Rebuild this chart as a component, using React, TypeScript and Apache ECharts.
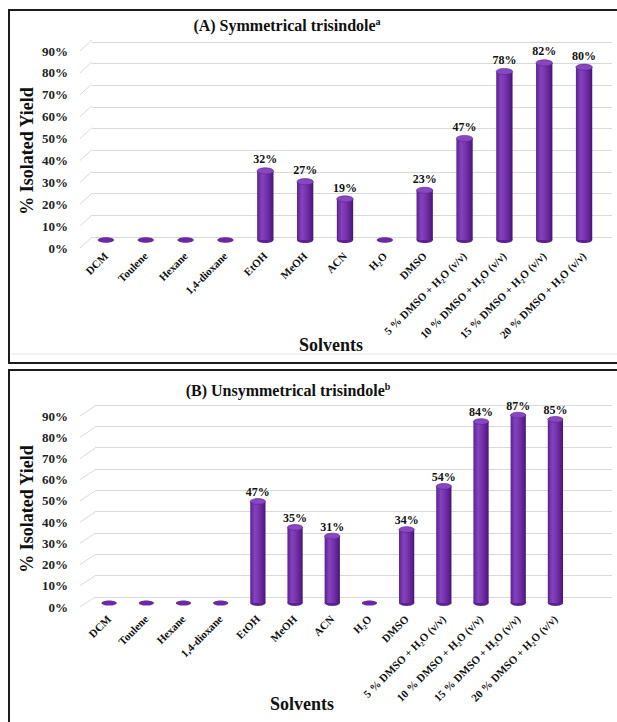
import React, { useEffect, useRef } from "react";
import * as echarts from "echarts";

const categories = [
  "DCM",
  "Toulene",
  "Hexane",
  "1,4-dioxane",
  "EtOH",
  "MeOH",
  "ACN",
  "H₂O",
  "DMSO",
  "5 % DMSO + H₂O (v/v)",
  "10 % DMSO + H₂O (v/v)",
  "15 % DMSO + H₂O (v/v)",
  "20 % DMSO + H₂O (v/v)",
];
const symmetricalYield = [0, 0, 0, 0, 32, 27, 19, 0, 23, 47, 78, 82, 80];
const unsymmetricalYield = [0, 0, 0, 0, 47, 35, 31, 0, 34, 54, 84, 87, 85];
const yTicks = [0, 10, 20, 30, 40, 50, 60, 70, 80, 90];
const titles = ["(A) Symmetrical trisindole", "(B) Unsymmetrical trisindole"];
const titleMarks = ["a", "b"];
const yName = "% Isolated Yield";
const xName = "Solvents";

const FONT = "'Liberation Serif', 'Times New Roman', serif";

type Box = { left: number; top: number; width: number; height: number };
type Geo = { bar: Box; label: Box; wall: Box; slant: [number, number]; labelDist: number };

const geos: Geo[] = [
  {
    bar: { left: 86, top: 45.6, width: 518, height: 194.4 },
    label: { left: 80, top: 51, width: 10, height: 197 },
    wall: { left: 92, top: 42, width: 520, height: 195 },
    slant: [12, 11],
    labelDist: 2,
  },
  {
    bar: { left: 90.5, top: 408.6, width: 483.5, height: 194.4 },
    label: { left: 80, top: 416, width: 10, height: 191 },
    wall: { left: 95, top: 405, width: 517, height: 192 },
    slant: [15, 10],
    labelDist: 0,
  },
];

function makeCylinder(labelDist: number) {
  return function (params: any, api: any) {
    const idx = api.value(0);
    const v = api.value(1);
    const base = api.coord([idx, 0]);
    const top = api.coord([idx, v]);
    const band = api.size([1, 0])[0];
    const w = band * 0.41;
    const rx = w / 2;
    const ry = w * 0.19;
    if (!v) {
      return {
        type: "ellipse",
        shape: { cx: base[0], cy: base[1], rx, ry: ry * 0.9 },
        style: { fill: "#6a2aa3" },
      };
    }
    const grad = new echarts.graphic.LinearGradient(0, 0, 1, 0, [
      { offset: 0, color: "#5a2190" },
      { offset: 0.3, color: "#8443bd" },
      { offset: 0.55, color: "#7634ad" },
      { offset: 0.85, color: "#5b1f8f" },
      { offset: 1, color: "#45156f" },
    ]);
    return {
      type: "group",
      children: [
        {
          type: "ellipse",
          shape: { cx: base[0], cy: base[1], rx, ry },
          style: { fill: "#5a2190" },
        },
        {
          type: "rect",
          shape: { x: base[0] - rx, y: top[1], width: w, height: base[1] - top[1] },
          style: { fill: grad },
        },
        {
          type: "ellipse",
          shape: { cx: top[0], cy: top[1], rx, ry },
          style: { fill: "#8747c0", stroke: "#5a2190", lineWidth: 0.6 },
          textContent: {
            style: {
              text: v + "%",
              font: `bold 12px ${FONT}`,
              fill: "#111",
            },
          },
          textConfig: { position: "top", distance: labelDist },
        },
      ],
    };
  };
}

function buildOption() {
  const grid: any[] = [];
  const xAxis: any[] = [];
  const yAxis: any[] = [];
  const series: any[] = [];
  const graphic: any[] = [];

  const dataSets = [symmetricalYield, unsymmetricalYield];

  geos.forEach((g, p) => {
    const gi = grid.length;
    // back wall with gridlines
    grid.push({ ...g.wall, containLabel: false });
    xAxis.push({ type: "value", gridIndex: gi, show: false, min: 0, max: 1 });
    yAxis.push({
      type: "value",
      gridIndex: gi,
      min: 0,
      max: 90,
      interval: 10,
      axisLine: { show: false },
      axisTick: { show: false },
      axisLabel: { show: false },
      splitLine: { show: true, lineStyle: { color: "#d9d9d9", width: 1 } },
    });
    // tick labels + slanted side-wall lines
    grid.push({ ...g.label, containLabel: false });
    xAxis.push({ type: "value", gridIndex: gi + 1, show: false, min: 0, max: 1 });
    yAxis.push({
      type: "value",
      gridIndex: gi + 1,
      min: 0,
      max: 90,
      interval: 10,
      axisLine: { show: false },
      axisTick: { show: false },
      splitLine: { show: false },
      axisLabel: {
        formatter: "{value}%",
        margin: 12,
        fontFamily: FONT,
        fontWeight: "bold",
        fontSize: 13,
        color: "#222",
      },
    });
    series.push({
      type: "custom",
      xAxisIndex: gi + 1,
      yAxisIndex: gi + 1,
      silent: true,
      data: yTicks.map((t) => [0, t]),
      encode: { x: 0, y: 1 },
      renderItem: (params: any, api: any) => {
        const pt = api.coord([0, api.value(1)]);
        return {
          type: "line",
          shape: { x1: pt[0], y1: pt[1], x2: pt[0] + g.slant[0], y2: pt[1] - g.slant[1] },
          style: { stroke: "#d9d9d9", lineWidth: 1 },
        };
      },
    });
    // cylinders
    grid.push({ ...g.bar, containLabel: false });
    xAxis.push({
      type: "category",
      gridIndex: gi + 2,
      data: categories,
      axisLine: { show: false },
      axisTick: { show: false },
      axisLabel: {
        interval: 0,
        rotate: 45,
        margin: 14,
        fontFamily: FONT,
        fontWeight: "bold",
        fontSize: 11,
        color: "#111",
      },
    });
    yAxis.push({ type: "value", gridIndex: gi + 2, min: 0, max: 90, interval: 10, show: false });
    series.push({
      type: "custom",
      xAxisIndex: gi + 2,
      yAxisIndex: gi + 2,
      data: dataSets[p].map((v, i) => [i, v]),
      encode: { x: 0, y: 1 },
      renderItem: makeCylinder(g.labelDist),
      z: 5,
    });
  });

  const panelTop = [10, 370];
  panelTop.forEach((t, p) => {
    graphic.push({
      type: "rect",
      shape: { x: 9, y: t, width: 640, height: p === 0 ? 353 : 400 },
      style: { fill: "none", stroke: "#1c1c1c", lineWidth: 2 },
      silent: true,
    });
  });
  graphic.push({
    type: "line",
    shape: { x1: 11, y1: 354, x2: 617, y2: 354 },
    style: { stroke: "#e6e6e6", lineWidth: 1 },
  });

  const titlePos = [
    [287, 25],
    [288, 390],
  ];
  const yNamePos = [
    [27, 151],
    [27, 509],
  ];
  const xNamePos = [
    [331, 345],
    [302, 704],
  ];
  [0, 1].forEach((p) => {
    graphic.push({
      type: "text",
      x: titlePos[p][0],
      y: titlePos[p][1],
      style: {
        text: titles[p] + "{sup|" + titleMarks[p] + "}",
        align: "center",
        verticalAlign: "middle",
        font: `bold 16px ${FONT}`,
        fill: "#111",
        rich: {
          sup: {
            font: `bold 10px ${FONT}`,
            fill: "#111",
            padding: [0, 0, 7, 0],
          },
        },
      },
    });
    graphic.push({
      type: "text",
      x: yNamePos[p][0],
      y: yNamePos[p][1],
      rotation: Math.PI / 2,
      style: {
        text: yName,
        align: "center",
        verticalAlign: "middle",
        font: `bold 18px ${FONT}`,
        fill: "#111",
      },
    });
    graphic.push({
      type: "text",
      x: xNamePos[p][0],
      y: xNamePos[p][1],
      style: {
        text: xName,
        align: "center",
        verticalAlign: "middle",
        font: `bold 18px ${FONT}`,
        fill: "#111",
      },
    });
  });

  return {
    animation: false,
    backgroundColor: "#ffffff",
    grid,
    xAxis,
    yAxis,
    series,
    graphic,
  };
}

export default function App() {
  const ref = useRef<HTMLDivElement>(null);
  useEffect(() => {
    if (!ref.current) return;
    const chart = echarts.init(ref.current, undefined, { renderer: "svg" });
    chart.setOption(buildOption() as any);
    return () => chart.dispose();
  }, []);
  return (
    <div
      ref={ref}
      style={{ position: "absolute", left: 0, top: 0, width: 617, height: 722 }}
    />
  );
}
